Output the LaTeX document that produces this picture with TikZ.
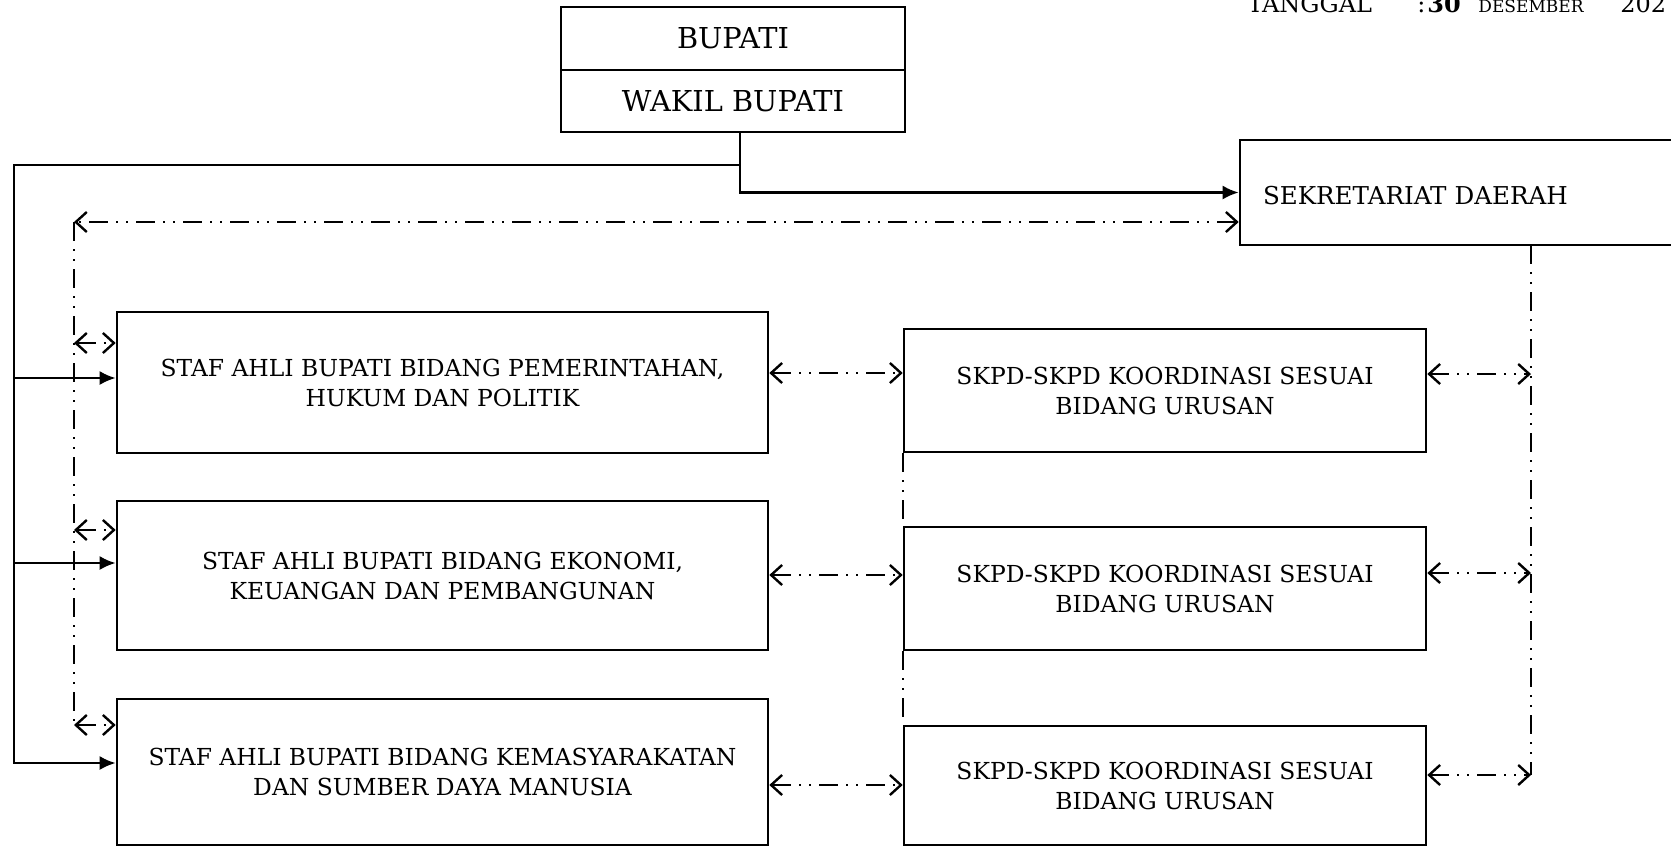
\documentclass[tikz,border=0pt]{standalone}
\usepackage{fontspec}
\setmainfont{DejaVu Serif}
\usetikzlibrary{arrows.meta,calc}

\tikzset{
  box/.style={draw, line width=1.3pt, inner sep=0pt, align=center},
  stafftext/.style={font=\fontsize{11.7}{15}\selectfont},
  solidarrow/.style={line width=1.2pt, -{Latex[length=8pt,width=7pt]}},
  dashdot/.style={line width=0.9pt,
    dash pattern=on 9.5pt off 4pt on 1pt off 4pt on 1pt off 4pt},
  openarrows/.style={dashdot, {Straight Barb[length=5.5pt,width=10pt,line width=1.2pt]}-{Straight Barb[length=5.5pt,width=10pt,line width=1.2pt]}},
}

\begin{document}
\begin{tikzpicture}[x=0.5pt,y=-0.5pt]
  \useasboundingbox (0,0) rectangle (1671,847);
  \clip (0,0) rectangle (1671,847);

  % date stamp, top right
  \node[anchor=base west, inner sep=0pt, font=\fontsize{12}{14}\selectfont] (tgl) at (1247,12)
    {\makebox[85pt][l]{TANGGAL}\makebox[5pt][l]{:}\makebox[25.5pt][l]{\textbf{\large 30}}%
     \makebox[71pt][l]{\fontsize{8.5}{10}\selectfont DESEMBER}202};

  % head of the region
  \node[box, minimum width=172pt, minimum height=31.5pt,
        font=\fontsize{14.4}{16}\selectfont] (bupati) at (733,38.5) {BUPATI};
  \node[box, minimum width=172pt, minimum height=31pt,
        font=\fontsize{14.4}{16}\selectfont] (wakil) at (733,101) {WAKIL BUPATI};

  % regional secretariat
  \node[box, minimum width=220pt, minimum height=52.5pt, text width=197pt,
        inner xsep=11.5pt, align=left, text height=12pt, text depth=0pt,
        font=\fontsize{12.3}{14}\selectfont]
        (sekre) at (1460,192.5) {SEKRETARIAT DAERAH};

  % expert staff
  \node[box, stafftext, minimum width=325.5pt, minimum height=70.5pt] (staff1)
    at (442.5,382.5) {STAF AHLI BUPATI BIDANG PEMERINTAHAN,\\HUKUM DAN POLITIK};
  \node[box, stafftext, minimum width=325.5pt, minimum height=74.5pt] (staff2)
    at (442.5,575.5) {STAF AHLI BUPATI BIDANG EKONOMI,\\KEUANGAN DAN PEMBANGUNAN};
  \node[box, stafftext, minimum width=325.5pt, minimum height=73pt] (staff3)
    at (442.5,772) {STAF AHLI BUPATI BIDANG KEMASYARAKATAN\\DAN SUMBER DAYA MANUSIA};

  % coordinating agencies
  \node[box, stafftext, minimum width=261pt, minimum height=61.5pt] (skpd1)
    at (1165,390.5) {SKPD-SKPD KOORDINASI SESUAI\\BIDANG URUSAN};
  \node[box, stafftext, minimum width=261pt, minimum height=61.5pt] (skpd2)
    at (1165,588.5) {SKPD-SKPD KOORDINASI SESUAI\\BIDANG URUSAN};
  \node[box, stafftext, minimum width=261pt, minimum height=59.5pt] (skpd3)
    at (1165,785.5) {SKPD-SKPD KOORDINASI SESUAI\\BIDANG URUSAN};

  % command lines
  \coordinate (trunk) at (740,165);
  \coordinate (lft) at (14,165);
  \draw[solidarrow] ([xshift=3.5pt]wakil.south) |- (sekre.west);
  \draw[solidarrow] (trunk) -- (lft) |- ($(staff3.west)+(0,-9)$);
  \draw[solidarrow] (lft |- 0,378) -- ($(staff1.west)+(0,-4.5)$);
  \draw[solidarrow] (lft |- 0,563) -- ($(staff2.west)+(0,-12.5)$);

  % coordination lines
  \coordinate (dl) at (74,222);
  \coordinate (dlb) at (74,725);
  \draw[openarrows] ($(sekre.west)+(0,29.5)$) -- (dl);
  \draw[dashdot] (dl) -- (dlb);
  \draw[openarrows] (dl |- 0,343) -- ($(staff1.west)+(0,-39.5)$);
  \draw[openarrows] (dl |- 0,530) -- ($(staff2.west)+(0,-45.5)$);
  \draw[openarrows] (dlb) -- ($(staff3.west)+(0,-47)$);

  \draw[openarrows] (staff1.east |- 0,373) -- (skpd1.west |- 0,373);
  \draw[openarrows] (staff2.east |- 0,575) -- (skpd2.west |- 0,575);
  \draw[openarrows] (staff3.east |- 0,785) -- (skpd3.west |- 0,785);

  \draw[dashdot] (skpd1.south west) -- (skpd2.north west);
  \draw[dashdot] (skpd2.south west) -- (skpd3.north west);

  \coordinate (rt) at (1531,245);
  \coordinate (rb) at (1531,775);
  \draw[dashdot] (rt) -- (rb);
  \draw[openarrows] (skpd1.east |- 0,374) -- (rt |- 0,374);
  \draw[openarrows] (skpd2.east |- 0,573) -- (rt |- 0,573);
  \draw[openarrows] (skpd3.east |- 0,775) -- (rb);
\end{tikzpicture}
\end{document}
